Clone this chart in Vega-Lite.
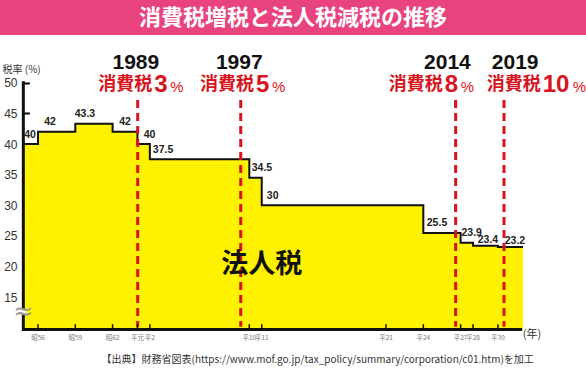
{
  "$schema": "https://vega.github.io/schema/vega-lite/v6.json",
  "width": 586,
  "height": 337,
  "autosize": {"type": "none"},
  "padding": {"top": 35, "left": 0, "right": 0, "bottom": 0},
  "background": "#e8437f",
  "view": {"fill": "white", "stroke": null},
  "title": {
    "text": "消費税増税と法人税減税の推移",
    "color": "white",
    "fontSize": 22,
    "fontWeight": "bold",
    "font": "Noto Sans CJK JP",
    "anchor": "middle",
    "frame": "group",
    "baseline": "middle",
    "offset": -4.5
  },
  "config": {
    "view": {"fill": "white", "stroke": null},
    "text": {"font": "Liberation Sans"}
  },
  "datasets": {
    "steps": [
      {"year": 1979.82, "rate": 40, "lx": 1980.36},
      {"year": 1981, "rate": 42, "lx": 1981.97},
      {"year": 1984, "rate": 43.3, "lx": 1984.78},
      {"year": 1987, "rate": 42, "lx": 1988.0},
      {"year": 1989, "rate": 40, "lx": 1989.97},
      {"year": 1990, "rate": 37.5, "lx": 1991.06},
      {"year": 1998, "rate": 34.5, "lx": 1999.02},
      {"year": 1999, "rate": 30, "lx": 1999.88},
      {"year": 2012, "rate": 25.5, "lx": 2013.1},
      {"year": 2015, "rate": 23.9, "lx": 2015.89},
      {"year": 2016, "rate": 23.4, "lx": 2017.2},
      {"year": 2018, "rate": 23.2, "lx": 2019.37},
      {"year": 2020.02, "rate": 23.2}
    ],
    "ticks": [
      {"year": 1981, "era": "昭56"},
      {"year": 1984, "era": "昭59"},
      {"year": 1987, "era": "昭62"},
      {"year": 1989, "era": "平元"},
      {"year": 1990, "era": "平2"},
      {"year": 1998, "era": "平10"},
      {"year": 1999, "era": "平11"},
      {"year": 2009, "era": "平21"},
      {"year": 2012, "era": "平24"},
      {"year": 2015, "era": "平27"},
      {"year": 2016, "era": "平28"},
      {"year": 2018, "era": "平30"}
    ],
    "hikes": [
      {"year": "1989", "tax": "3", "line": 1989.02, "ylx": 1988.87, "tx": 1990.28},
      {"year": "1997", "tax": "5", "line": 1997.31, "ylx": 1997.19, "tx": 1998.46},
      {"year": "2014", "tax": "8", "line": 2014.6, "ylx": 2013.94, "tx": 2013.64},
      {"year": "2019", "tax": "10", "line": 2018.49, "ylx": 2019.39, "tx": 2021.52}
    ]
  },
  "layer": [
    {
      "data": {"name": "steps"},
      "mark": {"type": "area", "interpolate": "step-after", "color": "#fff200"},
      "encoding": {
        "x": {"field": "year", "type": "quantitative", "scale": {"domain": [1977.943, 2025.087], "nice": false, "zero": false}, "axis": null},
        "y": {
          "field": "rate", "type": "quantitative",
          "scale": {"domain": [2.81, 57.78], "nice": false, "zero": false},
          "axis": {
            "values": [15, 20, 25, 30, 35, 40, 45, 50],
            "domain": false, "grid": false, "offset": -23.33,
            "tickSize": -6, "tickWidth": 2, "tickColor": "black",
            "labelPadding": 12.3, "labelFontSize": 12, "labelColor": "#333", "labelFont": "Liberation Sans",
            "title": "税率 (%)", "titleAngle": 0, "titleAlign": "left", "titleBaseline": "middle",
            "titleX": -21.3, "titleY": 34.3, "titleFont": "Noto Sans CJK JP", "titleFontSize": 10,
            "titleFontWeight": "normal", "titleColor": "#333"
          }
        },
        "y2": {"datum": 9.745}
      }
    },
    {
      "data": {"name": "steps"},
      "mark": {"type": "line", "interpolate": "step-after", "color": "#111", "strokeWidth": 2},
      "encoding": {
        "x": {"field": "year", "type": "quantitative"},
        "y": {"field": "rate", "type": "quantitative"}
      }
    },
    {
      "data": {"name": "hikes"},
      "mark": {"type": "rule", "color": "#d9141e", "strokeWidth": 3, "strokeDash": [8, 5]},
      "encoding": {
        "x": {"field": "line", "type": "quantitative"},
        "y": {"datum": 47.18},
        "y2": {"datum": 10.2}
      }
    },
    {
      "data": {"values": [{}]},
      "mark": {"type": "rule", "color": "#111", "strokeWidth": 3, "strokeCap": "square"},
      "encoding": {
        "x": {"datum": 1979.82},
        "y": {"datum": 9.745},
        "y2": {"datum": 50}
      }
    },
    {
      "data": {"values": [{}]},
      "mark": {"type": "rule", "color": "#111", "strokeWidth": 3},
      "encoding": {
        "x": {"datum": 1979.82},
        "x2": {"datum": 2019.95},
        "y": {"datum": 9.745}
      }
    },
    {
      "data": {"values": [{}]},
      "mark": {"type": "rule", "color": "white", "strokeWidth": 5},
      "encoding": {
        "x": {"datum": 1979.82},
        "y": {"datum": 12.3},
        "y2": {"datum": 12.9}
      }
    },
    {
      "data": {"values": [{"t": "≈"}]},
      "mark": {"type": "text", "font": "DejaVu Sans", "fontSize": 24, "color": "#999", "align": "center", "baseline": "middle"},
      "encoding": {
        "x": {"datum": 1979.82},
        "y": {"datum": 12.6},
        "text": {"field": "t"}
      }
    },
    {
      "data": {"name": "ticks"},
      "mark": {"type": "rule", "color": "#111", "strokeWidth": 1.5},
      "encoding": {
        "x": {"field": "year", "type": "quantitative"},
        "y": {"datum": 9.745},
        "y2": {"datum": 10.6}
      }
    },
    {
      "data": {"name": "ticks"},
      "mark": {"type": "text", "font": "Noto Sans CJK JP", "fontSize": 6.5, "color": "#777", "align": "center", "baseline": "middle", "dy": 9},
      "encoding": {
        "x": {"field": "year", "type": "quantitative"},
        "y": {"datum": 9.745},
        "text": {"field": "era"}
      }
    },
    {
      "data": {"name": "steps"},
      "transform": [{"filter": "isValid(datum.lx) && datum.year < 2016"}],
      "mark": {"type": "text", "fontSize": 10.5, "fontWeight": "bold", "color": "#222", "align": "center", "baseline": "alphabetic", "dy": -6.5},
      "encoding": {
        "x": {"field": "lx", "type": "quantitative"},
        "y": {"field": "rate", "type": "quantitative"},
        "text": {"field": "rate", "type": "nominal"}
      }
    },
    {
      "data": {"name": "steps"},
      "transform": [{"filter": "isValid(datum.lx) && datum.year >= 2016"}],
      "mark": {"type": "text", "fontSize": 10.5, "fontWeight": "bold", "color": "#222", "align": "center", "baseline": "alphabetic", "dy": -2.5},
      "encoding": {
        "x": {"field": "lx", "type": "quantitative"},
        "y": {"field": "rate", "type": "quantitative"},
        "text": {"field": "rate", "type": "nominal"}
      }
    },
    {
      "data": {"values": [{"t": "法人税"}]},
      "mark": {"type": "text", "font": "Noto Sans CJK JP", "fontSize": 27, "fontWeight": "bold", "color": "#111", "align": "center", "baseline": "middle"},
      "encoding": {
        "x": {"datum": 1999.0},
        "y": {"datum": 20.3},
        "text": {"field": "t"}
      }
    },
    {
      "data": {"name": "hikes"},
      "mark": {"type": "text", "fontSize": 21, "fontWeight": "bold", "color": "#111", "align": "center", "baseline": "alphabetic"},
      "encoding": {
        "x": {"field": "ylx", "type": "quantitative"},
        "y": {"datum": 52.19},
        "text": {"field": "year"}
      }
    },
    {
      "data": {"name": "hikes"},
      "transform": [{"calculate": "'消費税'", "as": "label"}],
      "mark": {"type": "text", "font": "Noto Sans CJK JP", "fontSize": 18, "fontWeight": "bold", "color": "#d9141e", "align": "right", "baseline": "middle", "dx": -1},
      "encoding": {
        "x": {"field": "tx", "type": "quantitative"},
        "y": {"datum": 49.6},
        "text": {"field": "label"}
      }
    },
    {
      "data": {"name": "hikes"},
      "mark": {"type": "text", "fontSize": 24, "fontWeight": "bold", "color": "#d9141e", "align": "left", "baseline": "alphabetic", "dx": 1},
      "encoding": {
        "x": {"field": "tx", "type": "quantitative"},
        "y": {"datum": 48.43},
        "text": {"field": "tax"}
      }
    },
    {
      "data": {"name": "hikes"},
      "transform": [{"filter": "length(datum.tax) == 1"}, {"calculate": "'%'", "as": "pct"}],
      "mark": {"type": "text", "fontSize": 15, "color": "#d9141e", "align": "left", "baseline": "alphabetic", "dx": 17},
      "encoding": {
        "x": {"field": "tx", "type": "quantitative"},
        "y": {"datum": 48.43},
        "text": {"field": "pct"}
      }
    },
    {
      "data": {"name": "hikes"},
      "transform": [{"filter": "length(datum.tax) == 2"}, {"calculate": "'%'", "as": "pct"}],
      "mark": {"type": "text", "fontSize": 15, "color": "#d9141e", "align": "left", "baseline": "alphabetic", "dx": 31},
      "encoding": {
        "x": {"field": "tx", "type": "quantitative"},
        "y": {"datum": 48.43},
        "text": {"field": "pct"}
      }
    },
    {
      "data": {"values": [{"t": "(年)"}]},
      "mark": {"type": "text", "font": "Noto Sans CJK JP", "fontSize": 11, "color": "#333", "align": "center", "baseline": "middle"},
      "encoding": {
        "x": {"datum": 2020.74},
        "y": {"datum": 8.8},
        "text": {"field": "t"}
      }
    },
    {
      "data": {"values": [{"t": "【出典】財務省図表(https://www.mof.go.jp/tax_policy/summary/corporation/c01.htm)を加工"}]},
      "mark": {"type": "text", "font": "Noto Sans CJK JP", "fontSize": 10, "color": "#333", "align": "center", "baseline": "middle"},
      "encoding": {
        "x": {"datum": 2003.5},
        "y": {"datum": 4.77},
        "text": {"field": "t"}
      }
    }
  ]
}
